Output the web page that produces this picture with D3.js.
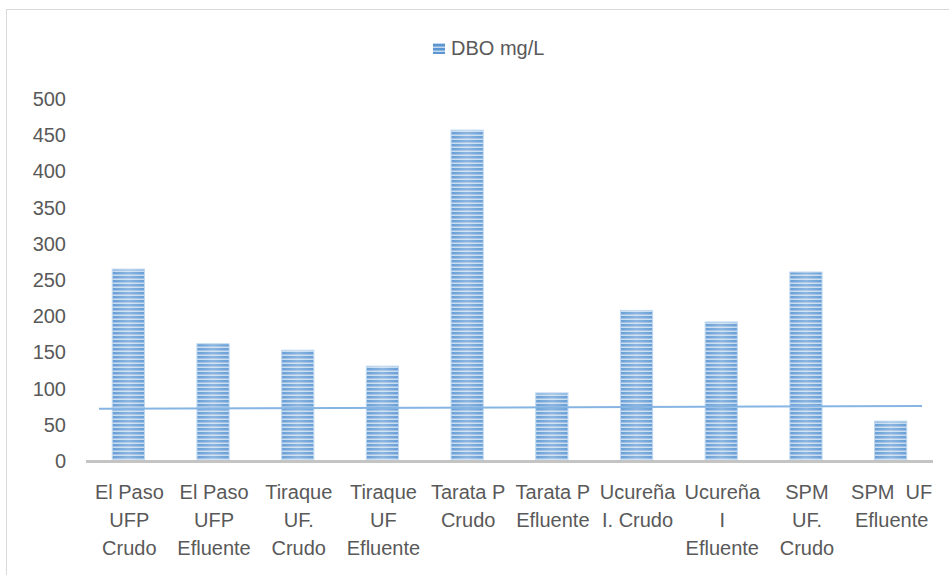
<!DOCTYPE html>
<html>
<head>
<meta charset="utf-8">
<script src="https://cdn.jsdelivr.net/npm/d3@7"></script>
<style>
  html, body { margin: 0; padding: 0; background: #fff; }
  svg { display: block; }
  text { font-family: "Liberation Sans", Arial, sans-serif; fill: #595959; }
</style>
</head>
<body>
<svg id="chart" width="949" height="575"></svg>
<script>
// ---- data ----
const categories = [
  "El Paso\nUFP\nCrudo",
  "El Paso\nUFP\nEfluente",
  "Tiraque\nUF.\nCrudo",
  "Tiraque\nUF\nEfluente",
  "Tarata P\nCrudo",
  "Tarata P\nEfluente",
  "Ucureña\nI. Crudo",
  "Ucureña\nI\nEfluente",
  "SPM\nUF.\nCrudo",
  "SPM  UF\nEfluente"
];
const dboValues = [265, 162, 153, 131, 457, 94, 208, 192, 261, 55];
const referenceLine = [72, 76]; // start / end value of the drawn limit line
const yTicks = [0, 50, 100, 150, 200, 250, 300, 350, 400, 450, 500];
const seriesName = "DBO mg/L";

// ---- layout ----
const svg = d3.select("#chart");
const margin = { left: 86, right: 16, top: 99, bottom: 114 };
const W = 949, H = 575;
const x = d3.scaleBand().domain(categories).range([margin.left, W - margin.right]).paddingInner(0.62).paddingOuter(0.31);
const y = d3.scaleLinear().domain([0, 500]).range([H - margin.bottom, margin.top]);

// chart border
svg.append("rect").attr("x", 6.5).attr("y", 9.5).attr("width", 960).attr("height", 600)
  .attr("fill", "none").attr("stroke", "#d9d9d9").attr("stroke-width", 1);

// defs: stripe pattern + glow gradient
const defs = svg.append("defs");
const pat = defs.append("pattern").attr("id", "stripes").attr("patternUnits", "userSpaceOnUse")
  .attr("width", 8).attr("height", 4);
pat.append("rect").attr("width", 8).attr("height", 4).attr("fill", "#5b96d2");
pat.append("rect").attr("y", 2.5).attr("width", 8).attr("height", 1.5).attr("fill", "#c2d8ef");
const grad = defs.append("linearGradient").attr("id", "glow").attr("x1", "0").attr("x2", "1").attr("y1", "0").attr("y2", "0");
grad.append("stop").attr("offset", "0").attr("stop-color", "#fff").attr("stop-opacity", 0.08);
grad.append("stop").attr("offset", "0.5").attr("stop-color", "#fff").attr("stop-opacity", 0.3);
grad.append("stop").attr("offset", "1").attr("stop-color", "#fff").attr("stop-opacity", 0.08);

// bars
const bars = svg.append("g");
bars.selectAll("rect.bar").data(dboValues).join("rect")
  .attr("class", "bar")
  .attr("x", (d, i) => x(categories[i]))
  .attr("y", d => y(d))
  .attr("width", x.bandwidth())
  .attr("height", d => y(0) - y(d))
  .attr("fill", "url(#stripes)")
  .attr("stroke", "#bcd6f0").attr("stroke-width", 1);
bars.selectAll("rect.glow").data(dboValues).join("rect")
  .attr("class", "glow")
  .attr("x", (d, i) => x(categories[i]))
  .attr("y", d => y(d))
  .attr("width", x.bandwidth())
  .attr("height", d => y(0) - y(d))
  .attr("fill", "url(#glow)");

// reference line
const x0 = x.range()[0] + 13, x1 = x.range()[1] - 11;
svg.append("line")
  .attr("x1", x0).attr("y1", y(referenceLine[0]))
  .attr("x2", x1).attr("y2", y(referenceLine[1]))
  .attr("stroke", "#86b5e4").attr("stroke-width", 2);

// baseline
svg.append("line")
  .attr("x1", x.range()[0]).attr("x2", x.range()[1])
  .attr("y1", y(0) + 0.5).attr("y2", y(0) + 0.5)
  .attr("stroke", "#c4c4c4").attr("stroke-width", 3);

// y axis labels
const yAxis = d3.axisLeft(y).tickValues(yTicks).tickSize(0).tickPadding(0);
const gy = svg.append("g").attr("transform", "translate(66,0)").call(yAxis);
gy.select(".domain").remove();
gy.selectAll("text").style("font-size", "20px").attr("fill", "#595959")
  .style("font-family", '"Liberation Sans", Arial, sans-serif');

// x labels
const gx = svg.append("g");
categories.forEach(c => {
  const lines = c.split("\n");
  const cx = x(c) + x.bandwidth() / 2 + 1;
  const t = gx.append("text").attr("text-anchor", "middle").style("font-size", "20px")
    .attr("x", cx).attr("y", 499);
  lines.forEach((ln, i) => {
    t.append("tspan").attr("x", cx).attr("dy", i === 0 ? 0 : 28)
      .style("white-space", "pre").text(ln);
  });
});

// legend
const lg = svg.append("g");
lg.append("rect").attr("x", 433).attr("y", 43).attr("width", 12).attr("height", 11).attr("fill", "url(#stripes)");
lg.append("text").attr("x", 451).attr("y", 55).style("font-size", "20px").text(seriesName);
</script>
</body>
</html>
